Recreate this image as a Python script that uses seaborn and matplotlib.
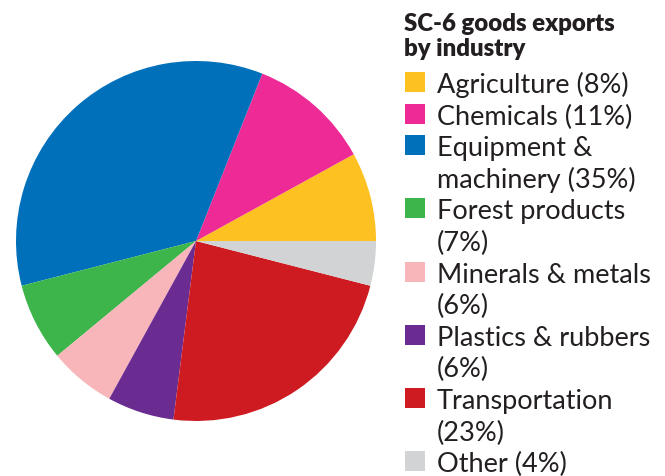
import seaborn as sns
import matplotlib.pyplot as plt
from matplotlib.patches import Rectangle

industries = ["Agriculture", "Chemicals", "Equipment &\nmachinery", "Forest products\n",
              "Minerals & metals\n", "Plastics & rubbers\n", "Transportation\n", "Other"]
shares = [8, 11, 35, 7, 6, 6, 23, 4]
colors = ["#FDC122", "#EE2A97", "#0070BA", "#3DB54A", "#F8B5BA", "#6A2C91", "#CE1B22", "#D1D3D4"]

sns.set_theme(style="white")
plt.rcParams['font.family'] = ['Lato', 'DejaVu Sans']

W, H = 665, 476
fig = plt.figure(figsize=(W / 100, H / 100), dpi=100)
cx, cy, r = 196, 241, 180
ax = fig.add_axes([(cx - r) / W, (H - cy - r) / H, 2 * r / W, 2 * r / H])
ax.pie(shares, colors=colors, startangle=0, counterclock=True, radius=1,
       wedgeprops=dict(linewidth=0))
ax.set_xlim(-1, 1)
ax.set_ylim(-1, 1)
ax.set_aspect('equal')
ax.axis('off')

txt = '#231F20'
# title, one line at a time
for i, t in enumerate(["SC-6 goods exports", "by industry"]):
    fig.text(404 / W, 1 - (31 + 25 * i) / H, t, fontsize=17.3, fontweight='heavy',
             va='baseline', ha='left', color=txt)

# legend drawn by hand so the swatch sits on the first line
step = 31.6
base = 93
for name, share, col in zip(industries, shares, colors):
    if name.endswith("\n"):
        label = f"{name}({share}%)"
    else:
        label = f"{name} ({share}%)"
    fig.patches.append(Rectangle((405 / W, 1 - (base - 1) / H), 20 / W, 20 / H,
                                 transform=fig.transFigure, color=col, lw=0))
    for ln in label.split("\n"):
        fig.text(437 / W, 1 - base / H, ln, fontsize=19.5, va='baseline', ha='left',
                 color=txt)
        base += step

fig.savefig("out.png", dpi=100)
